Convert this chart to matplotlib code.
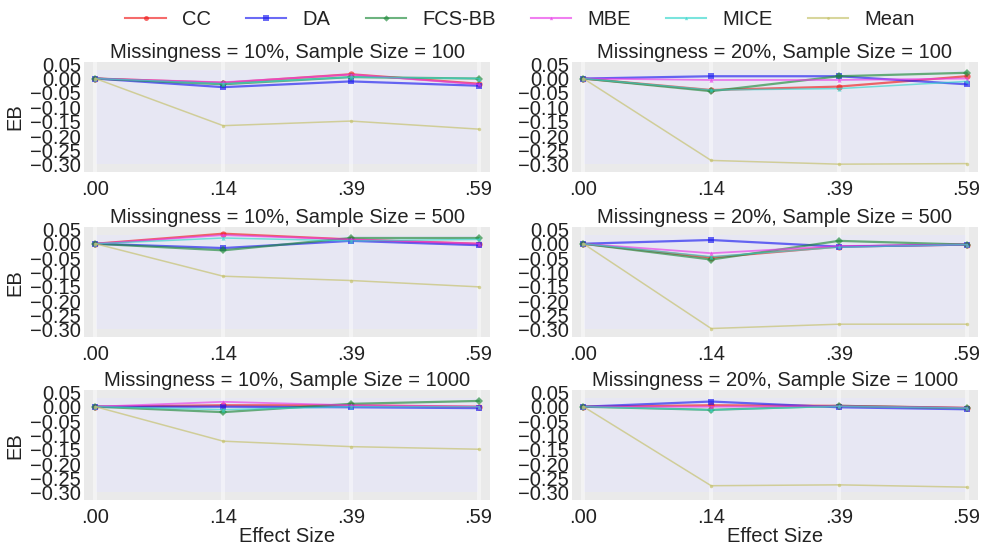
import matplotlib
matplotlib.use("Agg")
import matplotlib.pyplot as plt
from matplotlib.patches import Rectangle
from matplotlib.lines import Line2D

plt.rcParams['font.family'] = ['Liberation Sans', 'DejaVu Sans']

effect_labels = [".00", ".14", ".39", ".59"]
methods = ["CC", "DA", "FCS-BB", "MBE", "MICE", "Mean"]
titles = [
    "Missingness = 10%, Sample Size = 100",
    "Missingness = 20%, Sample Size = 100",
    "Missingness = 10%, Sample Size = 500",
    "Missingness = 20%, Sample Size = 500",
    "Missingness = 10%, Sample Size = 1000",
    "Missingness = 20%, Sample Size = 1000",
]

# Estimation bias per method, one list per panel (effect sizes .00, .14, .39, .59)
cc = [
    [0.0, -0.015, 0.015, -0.018],
    [0.0, -0.040, -0.028, 0.008],
    [0.0, 0.035, 0.015, 0.000],
    [0.0, -0.048, -0.010, -0.003],
    [0.0, 0.005, 0.005, 0.000],
    [0.0, 0.005, 0.003, -0.004],
]
da = [
    [0.0, -0.030, -0.010, -0.025],
    [0.0, 0.008, 0.008, -0.020],
    [0.0, -0.015, 0.010, -0.005],
    [0.0, 0.013, -0.010, -0.003],
    [0.0, 0.000, -0.002, -0.005],
    [0.0, 0.018, -0.002, -0.009],
]
fcs_bb = [
    [0.0, -0.020, 0.005, 0.000],
    [0.0, -0.044, 0.008, 0.020],
    [0.0, -0.023, 0.020, 0.020],
    [0.0, -0.055, 0.010, -0.003],
    [0.0, -0.019, 0.010, 0.020],
    [0.0, -0.011, 0.003, -0.005],
]
mbe = [
    [0.0, -0.013, 0.014, -0.020],
    [0.0, -0.005, -0.005, 0.000],
    [0.0, 0.030, 0.015, 0.000],
    [0.0, -0.033, -0.008, -0.003],
    [0.0, 0.017, 0.005, 0.000],
    [0.0, 0.000, 0.002, -0.004],
]
mice = [
    [0.0, -0.018, 0.005, 0.000],
    [0.0, -0.040, -0.035, -0.010],
    [0.0, 0.020, 0.010, 0.015],
    [0.0, -0.045, -0.012, -0.003],
    [0.0, -0.010, 0.000, 0.000],
    [0.0, -0.011, 0.001, -0.005],
]
mean_imp = [
    [0.0, -0.164, -0.148, -0.176],
    [0.0, -0.285, -0.298, -0.296],
    [0.0, -0.113, -0.128, -0.150],
    [0.0, -0.295, -0.280, -0.280],
    [0.0, -0.120, -0.139, -0.148],
    [0.0, -0.275, -0.272, -0.280],
]
series = [cc, da, fcs_bb, mbe, mice, mean_imp]

colors = ["#f01c1c", "#1c1cf0", "#1f8a3a", "#e83ae8", "#33d6cc", "#c4c068"]
markers = ["o", "s", "D", "^", "^", "o"]
msizes = [4.5, 5, 4, 3, 3, 2.5]
lws = [1.6, 1.6, 1.6, 1.3, 1.1, 1.1]

fig = plt.figure(figsize=(9.81, 5.6), dpi=100)
fig.patch.set_facecolor("white")

lefts = [0.0856, 0.583]
bottoms = [0.693, 0.398, 0.107]
w, h = 0.414, 0.196

axes = []
for r in range(3):
    for c in range(2):
        ax = fig.add_axes([lefts[c], bottoms[r], w, h])
        axes.append(ax)

xs = list(range(len(effect_labels)))
yticks = [0.05, 0.00, -0.05, -0.10, -0.15, -0.20, -0.25, -0.30]

for i, ax in enumerate(axes):
    ax.set_facecolor("#eaeaea")
    ax.add_patch(Rectangle((0.03, 0.07), 0.94, 0.86, transform=ax.transAxes,
                           facecolor="#e7e7f3", edgecolor="none", zorder=0))
    for x in xs:
        ax.axvline(x, color="white", lw=3, alpha=0.45, zorder=0.5)
    for s, col, mk, ms, lw in zip(series, colors, markers, msizes, lws):
        ax.plot(xs, s[i], color=col, marker=mk, ms=ms, lw=lw, alpha=0.65,
                markeredgewidth=0, zorder=2)
    ax.set_xlim(-0.09, 3.09)
    ax.set_ylim(-0.325, 0.057)
    ax.set_xticks(xs)
    ax.set_xticklabels(effect_labels)
    ax.set_yticks(yticks)
    ax.set_yticklabels([f"{v:.2f}".replace("-", "\u2212") for v in yticks])
    ax.tick_params(axis="both", labelsize=14.5, length=0, pad=2, labelcolor="#222222")
    ax.tick_params(axis="x", pad=6)
    for sp in ax.spines.values():
        sp.set_visible(False)
    ax.set_title(titles[i], fontsize=14.5, pad=3, color="#222222")
    if i % 2 == 0:
        ax.set_ylabel("EB", fontsize=14.5, labelpad=4, color="#222222")
    if i >= 4:
        ax.set_xlabel("Effect Size", fontsize=14.5, labelpad=0, color="#222222")

handles = [Line2D([0], [0], color=col, marker=mk, ms=ms * 0.8, lw=1.5, alpha=0.65,
                  markeredgewidth=0)
           for col, mk, ms in zip(colors, markers, msizes)]
fig.legend(handles, methods, loc="center", bbox_to_anchor=(0.53, 0.965), ncol=6,
           frameon=False, fontsize=14.5, handlelength=2.0, columnspacing=1.75,
           handletextpad=0.8, labelcolor="#222222")

fig.savefig("out.png", dpi=100)
